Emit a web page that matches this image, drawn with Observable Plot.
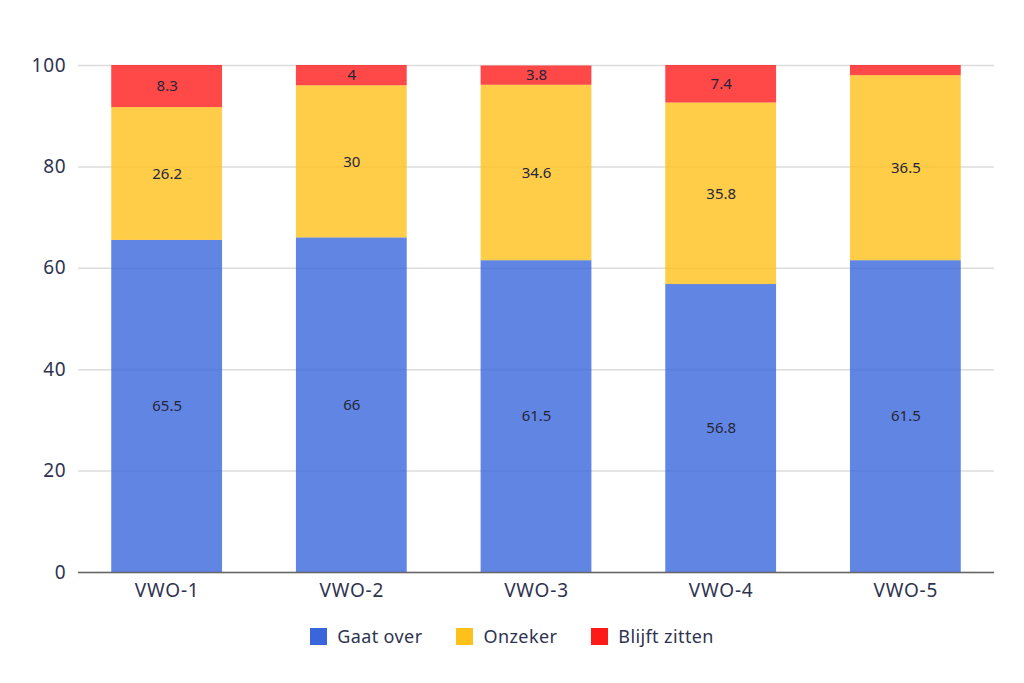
<!DOCTYPE html>
<html><head><meta charset="utf-8">
<script src="https://cdn.jsdelivr.net/npm/d3@7"></script>
<script src="https://cdn.jsdelivr.net/npm/@observablehq/plot@0.6"></script>
<style>
body{margin:0;background:#fff;font-family:"Noto Sans",sans-serif;}
#legend{display:flex;justify-content:center;gap:34px;margin-top:17px;font-size:18px;letter-spacing:0.4px;color:#2e3350;}
#legend span.item{display:flex;align-items:center;gap:10px;}
#legend span.sw{display:inline-block;width:17px;height:17px;}
svg g[aria-label="x-axis tick label"] text, svg g[aria-label="y-axis tick label"] text{letter-spacing:0.8px;}
</style></head>
<body>
<div id="chart"></div>
<div id="legend"></div>
<script>
const categories = ["VWO-1","VWO-2","VWO-3","VWO-4","VWO-5"];
const seriesNames = ["Gaat over","Onzeker","Blijft zitten"];
const gaatOver = [65.5,66,61.5,56.8,61.5];
const onzeker = [26.2,30,34.6,35.8,36.5];
const blijftZitten = [8.3,4,3.8,7.4,2];
const colors = ["#3a66db","#ffc01a","#ff1a1a"];
const yTicks = [0,20,40,60,80,100];

const values = [gaatOver, onzeker, blijftZitten];
const data = [];
seriesNames.forEach((s,i)=>categories.forEach((c,j)=>data.push({cat:c, series:s, value:values[i][j]})));

const chart = Plot.plot({
  width:1024, height:607,
  marginLeft:78, marginRight:30, marginTop:65, marginBottom:35,
  style:{fontFamily:"'Noto Sans', sans-serif", color:"#2e3350", background:"#fff"},
  x:{domain:categories, paddingInner:0.4, paddingOuter:0.18, round:false},
  y:{domain:[0,100]},
  color:{domain:seriesNames, range:colors},
  marks:[
    Plot.gridY(yTicks,{stroke:"#dcdcdc", strokeOpacity:1, strokeWidth:1.5}),
    Plot.barY(data,{x:"cat", y:"value", fill:"series", fillOpacity:0.8, order:seriesNames}),
    Plot.textY(data, Plot.stackY({x:"cat", y:"value", z:"series", order:seriesNames,
      text:d=>d.value>2.5?String(d.value):"", fill:"#26263a", fontSize:15})),
    Plot.ruleY([0],{stroke:"#666", strokeWidth:1.5}),
    Plot.axisX({label:null, tickSize:0, tickPadding:11, fontSize:19, fill:"#2e3350"}),
    Plot.axisY({ticks:yTicks, label:null, tickSize:0, tickPadding:12, fontSize:19, fill:"#2e3350"})
  ]
});
document.getElementById("chart").appendChild(chart);
const leg = document.getElementById("legend");
seriesNames.forEach((s,i)=>{
  const it=document.createElement("span"); it.className="item";
  const sw=document.createElement("span"); sw.className="sw"; sw.style.background=colors[i];
  it.appendChild(sw); it.appendChild(document.createTextNode(s)); leg.appendChild(it);
});
</script>
</body></html>
